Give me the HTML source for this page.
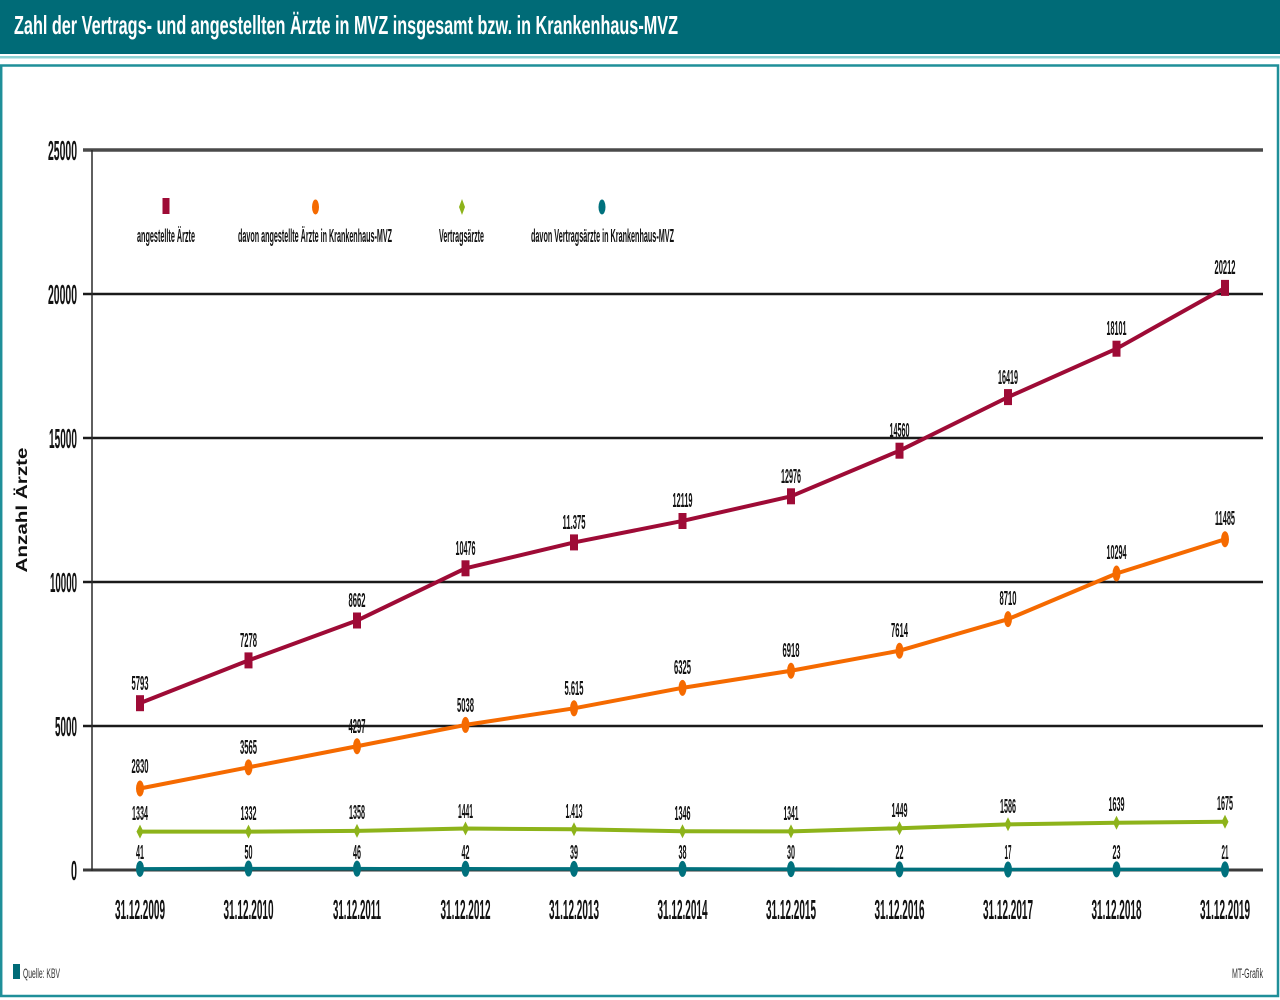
<!DOCTYPE html>
<html>
<head>
<meta charset="utf-8">
<style>
html,body{margin:0;padding:0;background:#fff;}
svg{display:block;}
text{font-family:"Liberation Sans",sans-serif;}
</style>
</head>
<body>
<svg width="1280" height="1000" viewBox="0 0 1280 1000" xmlns="http://www.w3.org/2000/svg">
  <rect x="0" y="0" width="1280" height="1000" fill="#ffffff"/>
  <!-- header -->
  <rect x="0" y="0" width="1280" height="54" fill="#006b77"/>
  <rect x="0" y="56" width="1280" height="2.5" fill="#8fd3d4"/>
  <text x="14" y="34" font-size="26" font-weight="bold" fill="#ffffff" textLength="664" lengthAdjust="spacingAndGlyphs">Zahl der Vertrags- und angestellten Ärzte in MVZ insgesamt bzw. in Krankenhaus-MVZ</text>
  <!-- frame -->
  <rect x="1.2" y="65.5" width="1276.8" height="930.5" fill="none" stroke="#1f8f99" stroke-width="2.5"/>

  <!-- gridlines -->
  <line x1="83" y1="150" x2="1263" y2="150" stroke="#4a4a4a" stroke-width="3.5"/>
  <line x1="83" y1="294" x2="1263" y2="294" stroke="#1a1a1a" stroke-width="2.5"/>
  <line x1="83" y1="438" x2="1263" y2="438" stroke="#1a1a1a" stroke-width="2.5"/>
  <line x1="83" y1="582" x2="1263" y2="582" stroke="#1a1a1a" stroke-width="2.5"/>
  <line x1="83" y1="726" x2="1263" y2="726" stroke="#1a1a1a" stroke-width="2.5"/>
  <line x1="83" y1="870" x2="1263" y2="870" stroke="#3a3a3a" stroke-width="3"/>
  <!-- y axis -->
  <line x1="92" y1="150" x2="92" y2="871" stroke="#2a2a2a" stroke-width="1.5"/>

  <!-- y labels -->
  <g font-size="28" font-weight="bold" fill="#111" text-anchor="end">
    <text x="77" y="160" textLength="29" lengthAdjust="spacingAndGlyphs">25000</text>
    <text x="77" y="304" textLength="29" lengthAdjust="spacingAndGlyphs">20000</text>
    <text x="77" y="448" textLength="28" lengthAdjust="spacingAndGlyphs">15000</text>
    <text x="77" y="592" textLength="27" lengthAdjust="spacingAndGlyphs">10000</text>
    <text x="77" y="736" textLength="22" lengthAdjust="spacingAndGlyphs">5000</text>
    <text x="77" y="880" textLength="6" lengthAdjust="spacingAndGlyphs">0</text>
  </g>
  <text transform="translate(27,510) rotate(-90)" font-size="16" font-weight="bold" fill="#111" text-anchor="middle" textLength="125" lengthAdjust="spacingAndGlyphs">Anzahl Ärzte</text>

  <!-- legend -->
  <rect x="162.5" y="198" width="7" height="16" fill="#9e0b36"/>
  <ellipse cx="315.5" cy="207" rx="3.5" ry="7.5" fill="#f56a00"/>
  <polygon points="462,199 465,207 462,215 459,207" fill="#8db31a"/>
  <ellipse cx="602" cy="207" rx="3.5" ry="7.5" fill="#00717d"/>
  <g font-size="18" font-weight="bold" fill="#111" text-anchor="middle">
    <text x="166" y="242" textLength="58" lengthAdjust="spacingAndGlyphs">angestellte Ärzte</text>
    <text x="315" y="242" textLength="154" lengthAdjust="spacingAndGlyphs">davon angestellte Ärzte in Krankenhaus-MVZ</text>
    <text x="461.5" y="242" textLength="45" lengthAdjust="spacingAndGlyphs">Vertragsärzte</text>
    <text x="602.5" y="242" textLength="143" lengthAdjust="spacingAndGlyphs">davon Vertragsärzte in Krankenhaus-MVZ</text>
  </g>

  <!-- series lines -->
  <polyline fill="none" stroke="#00717d" stroke-width="3.5" points="140,868.82 248.5,868.56 357,868.68 465.5,868.79 574,868.88 682.5,868.91 791,869.14 899.5,869.37 1008,869.51 1116.5,869.34 1225,869.4"/>
  <polyline fill="none" stroke="#8db31a" stroke-width="4" stroke-linejoin="round" points="140,831.58 248.5,831.64 357,830.89 465.5,828.5 574,829.31 682.5,831.24 791,831.38 899.5,828.27 1008,824.32 1116.5,822.8 1225,821.76"/>
  <polyline fill="none" stroke="#f56a00" stroke-width="4" stroke-linejoin="round" points="140,788.5 248.5,767.33 357,746.25 465.5,724.91 574,708.29 682.5,687.84 791,670.76 899.5,650.72 1008,619.15 1116.5,573.53 1225,539.23"/>
  <polyline fill="none" stroke="#9e0b36" stroke-width="4" stroke-linejoin="round" points="140,703.16 248.5,660.39 357,620.53 465.5,568.29 574,542.4 682.5,520.97 791,496.29 899.5,450.67 1008,397.13 1116.5,348.69 1225,287.89"/>

  <!-- markers: teal -->
  <g fill="#00717d">
    <ellipse cx="140" cy="868.82" rx="4" ry="8"/>
    <ellipse cx="248.5" cy="868.56" rx="4" ry="8"/>
    <ellipse cx="357" cy="868.68" rx="4" ry="8"/>
    <ellipse cx="465.5" cy="868.79" rx="4" ry="8"/>
    <ellipse cx="574" cy="868.88" rx="4" ry="8"/>
    <ellipse cx="682.5" cy="868.91" rx="4" ry="8"/>
    <ellipse cx="791" cy="869.14" rx="4" ry="8"/>
    <ellipse cx="899.5" cy="869.37" rx="4" ry="8"/>
    <ellipse cx="1008" cy="869.51" rx="4" ry="8"/>
    <ellipse cx="1116.5" cy="869.34" rx="4" ry="8"/>
    <ellipse cx="1225" cy="869.4" rx="4" ry="8"/>
  </g>
  <!-- markers: green diamonds -->
  <g fill="#8db31a">
    <polygon points="140,824.6 143.5,831.6 140,838.6 136.5,831.6"/>
    <polygon points="248.5,824.6 252,831.6 248.5,838.6 245,831.6"/>
    <polygon points="357,823.9 360.5,830.9 357,837.9 353.5,830.9"/>
    <polygon points="465.5,821.5 469,828.5 465.5,835.5 462,828.5"/>
    <polygon points="574,822.3 577.5,829.3 574,836.3 570.5,829.3"/>
    <polygon points="682.5,824.2 686,831.2 682.5,838.2 679,831.2"/>
    <polygon points="791,824.4 794.5,831.4 791,838.4 787.5,831.4"/>
    <polygon points="899.5,821.3 903,828.3 899.5,835.3 896,828.3"/>
    <polygon points="1008,817.3 1011.5,824.3 1008,831.3 1004.5,824.3"/>
    <polygon points="1116.5,815.8 1120,822.8 1116.5,829.8 1113,822.8"/>
    <polygon points="1225,814.8 1228.5,821.8 1225,828.8 1221.5,821.8"/>
  </g>
  <!-- markers: orange -->
  <g fill="#f56a00">
    <ellipse cx="140" cy="788.5" rx="4" ry="8"/>
    <ellipse cx="248.5" cy="767.33" rx="4" ry="8"/>
    <ellipse cx="357" cy="746.25" rx="4" ry="8"/>
    <ellipse cx="465.5" cy="724.91" rx="4" ry="8"/>
    <ellipse cx="574" cy="708.29" rx="4" ry="8"/>
    <ellipse cx="682.5" cy="687.84" rx="4" ry="8"/>
    <ellipse cx="791" cy="670.76" rx="4" ry="8"/>
    <ellipse cx="899.5" cy="650.72" rx="4" ry="8"/>
    <ellipse cx="1008" cy="619.15" rx="4" ry="8"/>
    <ellipse cx="1116.5" cy="573.53" rx="4" ry="8"/>
    <ellipse cx="1225" cy="539.23" rx="4" ry="8"/>
  </g>
  <!-- markers: red squares -->
  <g fill="#9e0b36">
    <rect x="136" y="695.2" width="8" height="16"/>
    <rect x="244.5" y="652.4" width="8" height="16"/>
    <rect x="353" y="612.5" width="8" height="16"/>
    <rect x="461.5" y="560.3" width="8" height="16"/>
    <rect x="570" y="534.4" width="8" height="16"/>
    <rect x="678.5" y="513" width="8" height="16"/>
    <rect x="787" y="488.3" width="8" height="16"/>
    <rect x="895.5" y="442.7" width="8" height="16"/>
    <rect x="1004" y="389.1" width="8" height="16"/>
    <rect x="1112.5" y="340.7" width="8" height="16"/>
    <rect x="1221" y="279.9" width="8" height="16"/>
  </g>

  <!-- data labels -->
  <g font-size="20" font-weight="bold" fill="#111" text-anchor="middle">
    <!-- red -->
    <text x="140" y="690" textLength="17" lengthAdjust="spacingAndGlyphs">5793</text>
    <text x="248.5" y="647" textLength="17" lengthAdjust="spacingAndGlyphs">7278</text>
    <text x="357" y="607" textLength="17" lengthAdjust="spacingAndGlyphs">8662</text>
    <text x="465.5" y="555" textLength="20" lengthAdjust="spacingAndGlyphs">10476</text>
    <text x="574" y="529" textLength="23" lengthAdjust="spacingAndGlyphs">11.375</text>
    <text x="682.5" y="507" textLength="20" lengthAdjust="spacingAndGlyphs">12119</text>
    <text x="791" y="483" textLength="20" lengthAdjust="spacingAndGlyphs">12976</text>
    <text x="899.5" y="437" textLength="20" lengthAdjust="spacingAndGlyphs">14560</text>
    <text x="1008" y="384" textLength="20" lengthAdjust="spacingAndGlyphs">16419</text>
    <text x="1116.5" y="335" textLength="20" lengthAdjust="spacingAndGlyphs">18101</text>
    <text x="1225" y="274" textLength="21" lengthAdjust="spacingAndGlyphs">20212</text>
    <!-- orange -->
    <text x="140" y="773" textLength="17" lengthAdjust="spacingAndGlyphs">2830</text>
    <text x="248.5" y="754" textLength="17" lengthAdjust="spacingAndGlyphs">3565</text>
    <text x="357" y="733" textLength="17" lengthAdjust="spacingAndGlyphs">4297</text>
    <text x="465.5" y="712" textLength="17" lengthAdjust="spacingAndGlyphs">5038</text>
    <text x="574" y="695" textLength="19" lengthAdjust="spacingAndGlyphs">5.615</text>
    <text x="682.5" y="674" textLength="17" lengthAdjust="spacingAndGlyphs">6325</text>
    <text x="791" y="657" textLength="17" lengthAdjust="spacingAndGlyphs">6918</text>
    <text x="899.5" y="637" textLength="17" lengthAdjust="spacingAndGlyphs">7614</text>
    <text x="1008" y="605" textLength="17" lengthAdjust="spacingAndGlyphs">8710</text>
    <text x="1116.5" y="559" textLength="20" lengthAdjust="spacingAndGlyphs">10294</text>
    <text x="1225" y="525" textLength="20" lengthAdjust="spacingAndGlyphs">11485</text>
    <!-- green -->
    <text x="140" y="820" textLength="16" lengthAdjust="spacingAndGlyphs">1334</text>
    <text x="248.5" y="820" textLength="16" lengthAdjust="spacingAndGlyphs">1332</text>
    <text x="357" y="819" textLength="16" lengthAdjust="spacingAndGlyphs">1358</text>
    <text x="465.5" y="818" textLength="15" lengthAdjust="spacingAndGlyphs">1441</text>
    <text x="574" y="818" textLength="17" lengthAdjust="spacingAndGlyphs">1.413</text>
    <text x="682.5" y="820" textLength="16" lengthAdjust="spacingAndGlyphs">1346</text>
    <text x="791" y="820" textLength="15" lengthAdjust="spacingAndGlyphs">1341</text>
    <text x="899.5" y="817" textLength="16" lengthAdjust="spacingAndGlyphs">1449</text>
    <text x="1008" y="813" textLength="16" lengthAdjust="spacingAndGlyphs">1586</text>
    <text x="1116.5" y="811" textLength="16" lengthAdjust="spacingAndGlyphs">1639</text>
    <text x="1225" y="810" textLength="16" lengthAdjust="spacingAndGlyphs">1675</text>
    <!-- teal -->
    <text x="140" y="859" textLength="8" lengthAdjust="spacingAndGlyphs">41</text>
    <text x="248.5" y="859" textLength="8" lengthAdjust="spacingAndGlyphs">50</text>
    <text x="357" y="859" textLength="8" lengthAdjust="spacingAndGlyphs">46</text>
    <text x="465.5" y="859" textLength="8" lengthAdjust="spacingAndGlyphs">42</text>
    <text x="574" y="859" textLength="8" lengthAdjust="spacingAndGlyphs">39</text>
    <text x="682.5" y="859" textLength="8" lengthAdjust="spacingAndGlyphs">38</text>
    <text x="791" y="859" textLength="8" lengthAdjust="spacingAndGlyphs">30</text>
    <text x="899.5" y="859" textLength="8" lengthAdjust="spacingAndGlyphs">22</text>
    <text x="1008" y="859" textLength="7" lengthAdjust="spacingAndGlyphs">17</text>
    <text x="1116.5" y="859" textLength="8" lengthAdjust="spacingAndGlyphs">23</text>
    <text x="1225" y="859" textLength="7" lengthAdjust="spacingAndGlyphs">21</text>
  </g>

  <!-- x labels -->
  <g font-size="28" font-weight="bold" fill="#111" text-anchor="middle">
    <text x="140" y="919" textLength="50" lengthAdjust="spacingAndGlyphs">31.12.2009</text>
    <text x="248.5" y="919" textLength="50" lengthAdjust="spacingAndGlyphs">31.12.2010</text>
    <text x="357" y="919" textLength="48" lengthAdjust="spacingAndGlyphs">31.12.2011</text>
    <text x="465.5" y="919" textLength="50" lengthAdjust="spacingAndGlyphs">31.12.2012</text>
    <text x="574" y="919" textLength="50" lengthAdjust="spacingAndGlyphs">31.12.2013</text>
    <text x="682.5" y="919" textLength="50" lengthAdjust="spacingAndGlyphs">31.12.2014</text>
    <text x="791" y="919" textLength="50" lengthAdjust="spacingAndGlyphs">31.12.2015</text>
    <text x="899.5" y="919" textLength="50" lengthAdjust="spacingAndGlyphs">31.12.2016</text>
    <text x="1008" y="919" textLength="50" lengthAdjust="spacingAndGlyphs">31.12.2017</text>
    <text x="1116.5" y="919" textLength="50" lengthAdjust="spacingAndGlyphs">31.12.2018</text>
    <text x="1225" y="919" textLength="50" lengthAdjust="spacingAndGlyphs">31.12.2019</text>
  </g>

  <!-- footer -->
  <rect x="13" y="964" width="7" height="15" fill="#006b77"/>
  <text x="23" y="978" font-size="14" fill="#333" textLength="37" lengthAdjust="spacingAndGlyphs">Quelle: KBV</text>
  <text x="1263" y="978" font-size="14" fill="#333" text-anchor="end" textLength="31" lengthAdjust="spacingAndGlyphs">MT-Grafik</text>
</svg>
</body>
</html>
